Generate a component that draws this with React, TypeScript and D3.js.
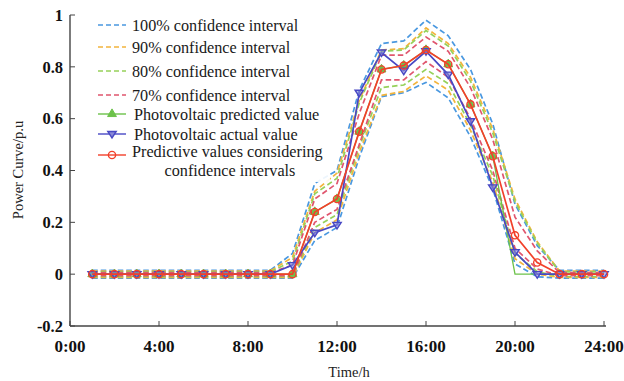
import React from "react";
import * as d3 from "d3";

// Hourly samples 1:00 .. 24:00
const hours: number[] = d3.range(1, 25);

// Power values (p.u.)
const actualValues: number[] = [0, 0, 0, 0, 0, 0, 0, 0, 0, 0.035, 0.16, 0.19, 0.7, 0.855, 0.785, 0.86, 0.77, 0.59, 0.335, 0.085, 0, 0, 0, 0];
const predictedValues: number[] = [0, 0, 0, 0, 0, 0, 0, 0, 0, 0, 0.24, 0.29, 0.55, 0.79, 0.805, 0.865, 0.81, 0.655, 0.455, 0, 0, 0, 0, 0];
const ciValues: number[] = [0, 0, 0, 0, 0, 0, 0, 0, 0, 0, 0.24, 0.29, 0.55, 0.79, 0.805, 0.865, 0.81, 0.655, 0.455, 0.15, 0.045, 0, 0, 0];

// Confidence interval bounds
const upper100: number[] = [0.015, 0.015, 0.015, 0.015, 0.015, 0.015, 0.015, 0.015, 0.015, 0.08, 0.35, 0.4, 0.71, 0.89, 0.9, 0.98, 0.92, 0.79, 0.58, 0.27, 0.11, 0.015, 0.015, 0.015];
const lower100: number[] = [-0.015, -0.015, -0.015, -0.015, -0.015, -0.015, -0.015, -0.015, -0.015, -0.015, 0.13, 0.18, 0.45, 0.685, 0.7, 0.74, 0.68, 0.53, 0.33, 0.04, -0.01, -0.015, -0.015, -0.015];
const upper90: number[] = [0.012, 0.012, 0.012, 0.012, 0.012, 0.012, 0.012, 0.012, 0.012, 0.065, 0.32, 0.39, 0.67, 0.865, 0.87, 0.95, 0.89, 0.76, 0.56, 0.29, 0.125, 0.012, 0.012, 0.012];
const lower90: number[] = [-0.012, -0.012, -0.012, -0.012, -0.012, -0.012, -0.012, -0.012, -0.012, -0.012, 0.16, 0.21, 0.47, 0.69, 0.705, 0.765, 0.71, 0.555, 0.355, 0.06, 0, -0.012, -0.012, -0.012];
const upper80: number[] = [0.009, 0.009, 0.009, 0.009, 0.009, 0.009, 0.009, 0.009, 0.009, 0.05, 0.31, 0.37, 0.66, 0.86, 0.865, 0.94, 0.88, 0.745, 0.545, 0.28, 0.12, 0.009, 0.009, 0.009];
const lower80: number[] = [-0.009, -0.009, -0.009, -0.009, -0.009, -0.009, -0.009, -0.009, -0.009, -0.009, 0.18, 0.23, 0.49, 0.72, 0.73, 0.79, 0.735, 0.575, 0.38, 0.08, 0.01, -0.009, -0.009, -0.009];
const upper70: number[] = [0.006, 0.006, 0.006, 0.006, 0.006, 0.006, 0.006, 0.006, 0.006, 0.035, 0.29, 0.35, 0.62, 0.845, 0.845, 0.915, 0.86, 0.72, 0.52, 0.22, 0.09, 0.006, 0.006, 0.006];
const lower70: number[] = [-0.006, -0.006, -0.006, -0.006, -0.006, -0.006, -0.006, -0.006, -0.006, -0.006, 0.2, 0.25, 0.5, 0.75, 0.75, 0.82, 0.76, 0.6, 0.4, 0.1, 0.02, -0.006, -0.006, -0.006];

// Axis ticks
const xTicks: number[] = [0, 4, 8, 12, 16, 20, 24];
const xTickLabels: string[] = ["0:00", "4:00", "8:00", "12:00", "16:00", "20:00", "24:00"];
const yTicks: number[] = [-0.2, 0, 0.2, 0.4, 0.6, 0.8, 1];
const yTickLabels: string[] = ["-0.2", "0", "0.2", "0.4", "0.6", "0.8", "1"];

const bandNames: string[] = ["100% confidence interval", "90% confidence interval", "80% confidence interval", "70% confidence interval"];
const bandColors: string[] = ["#4a98e0", "#f2b43c", "#96d15a", "#e0566e"];

const W = 624;
const H = 381;
const FONT = "'Liberation Serif', 'Times New Roman', serif";

export default function App() {
  const x = d3.scaleLinear().domain([0, 24]).range([70, 604]);
  const y = d3.scaleLinear().domain([-0.2, 1]).range([326, 15]);

  const line = d3
    .line<number>()
    .x((_, i) => x(hours[i]))
    .y((d) => y(d));

  const bands = [
    [upper100, lower100],
    [upper90, lower90],
    [upper80, lower80],
    [upper70, lower70],
  ];

  const green = "#6cc24a";
  const blue = "#4848c4";
  const red = "#f2402a";

  const triUp = d3.symbol(d3.symbolTriangle, 34)()!;
  const triDown = (cx: number, cy: number, r: number) =>
    `M${cx - r},${cy - r * 0.6}L${cx + r},${cy - r * 0.6}L${cx},${cy + r * 0.95}Z`;

  const legendX0 = 98;
  const legendX1 = 126;
  const legendTextX = 132;
  const legendRows = [25, 47, 71, 95];
  const legendFont = 16.2;

  return (
    <svg
      width={W}
      height={H}
      style={{ position: "absolute", left: 0, top: 0, background: "#fff" }}
      fontFamily={FONT}
    >
      <rect x={0} y={0} width={W} height={H} fill="#fff" />

      {/* confidence interval bounds */}
      {bands.map((pair, bi) =>
        pair.map((vals, k) => (
          <path
            key={`b${bi}-${k}`}
            d={line(vals)!}
            fill="none"
            stroke={bandColors[bi]}
            strokeWidth={1.7}
            strokeDasharray="5.5,3"
          />
        ))
      )}

      {/* predicted value */}
      <path d={line(predictedValues)!} fill="none" stroke={green} strokeWidth={1.3} />
      {predictedValues.map((v, i) =>
        i < 19 ? (
          <path
            key={`g${i}`}
            d={triUp}
            transform={`translate(${x(hours[i])},${y(v)})`}
            fill={green}
            stroke={green}
          />
        ) : null
      )}

      {/* actual value */}
      <path d={line(actualValues)!} fill="none" stroke={blue} strokeWidth={1.7} />
      {actualValues.map((v, i) => (
        <path
          key={`a${i}`}
          d={triDown(x(hours[i]), y(v), 4.2)}
          fill="#8a8ad8"
          fillOpacity={0.6}
          stroke={blue}
          strokeWidth={1.4}
        />
      ))}

      {/* values considering confidence intervals */}
      <path d={line(ciValues)!} fill="none" stroke={red} strokeWidth={1.7} />
      {ciValues.map((v, i) => (
        <circle
          key={`r${i}`}
          cx={x(hours[i])}
          cy={y(v)}
          r={3.6}
          fill="none"
          stroke={red}
          strokeWidth={1.4}
        />
      ))}

      {/* legend */}
      <rect x={94} y={14} width={236} height={168} fill="#fff" fillOpacity={0.9} />
      {bandNames.map((name, i) => (
        <g key={name}>
          <line
            x1={legendX0}
            x2={legendX1}
            y1={legendRows[i]}
            y2={legendRows[i]}
            stroke={bandColors[i]}
            strokeWidth={1.6}
            strokeDasharray="5,3"
          />
          <text x={legendTextX} y={legendRows[i]} dy="0.35em" fontSize={legendFont} fill="#1a1a1a">
            {name}
          </text>
        </g>
      ))}
      <line x1={legendX0} x2={legendX1} y1={114} y2={114} stroke={green} strokeWidth={1.4} />
      <path d={triUp} transform={`translate(${(legendX0 + legendX1) / 2},114)`} fill={green} stroke={green} />
      <text x={legendTextX + 2} y={114} dy="0.35em" fontSize={legendFont} fill="#1a1a1a">
        Photovoltaic predicted value
      </text>
      <line x1={legendX0} x2={legendX1} y1={134} y2={134} stroke={blue} strokeWidth={1.4} />
      <path d={triDown((legendX0 + legendX1) / 2, 134, 4.2)} fill="#8a8ad8" stroke={blue} strokeWidth={1.4} />
      <text x={legendTextX + 2} y={134} dy="0.35em" fontSize={legendFont} fill="#1a1a1a">
        Photovoltaic actual value
      </text>
      <line x1={legendX0} x2={legendX1} y1={155} y2={155} stroke={red} strokeWidth={1.4} />
      <circle cx={(legendX0 + legendX1) / 2} cy={155} r={3.6} fill="none" stroke={red} strokeWidth={1.4} />
      <text x={legendTextX} y={151} dy="0.35em" fontSize={legendFont} fill="#1a1a1a">
        Predictive values considering
      </text>
      <text x={230} y={170} dy="0.35em" fontSize={legendFont} fill="#1a1a1a" textAnchor="middle">
        confidence intervals
      </text>

      {/* axes */}
      <line x1={70} x2={70} y1={15} y2={326} stroke="#444" strokeWidth={1.4} />
      <line x1={70} x2={606} y1={326} y2={326} stroke="#444" strokeWidth={1.4} />
      {yTicks.map((t, i) => (
        <g key={`yt${i}`}>
          <line x1={70} x2={75} y1={y(t)} y2={y(t)} stroke="#444" strokeWidth={1} />
          <text
            x={63}
            y={y(t)}
            dy="0.35em"
            textAnchor="end"
            fontSize={16.5}
            fontWeight="bold"
            fill="#111"
          >
            {yTickLabels[i]}
          </text>
        </g>
      ))}
      {xTicks.map((t, i) => (
        <g key={`xt${i}`}>
          <line x1={x(t)} x2={x(t)} y1={326} y2={321} stroke="#444" strokeWidth={1} />
          <text
            x={x(t)}
            y={346}
            dy="0.35em"
            textAnchor="middle"
            fontSize={17}
            fontWeight="bold"
            fill="#111"
          >
            {xTickLabels[i]}
          </text>
        </g>
      ))}
      <text x={349} y={372} dy="0.35em" textAnchor="middle" fontSize={14.5} fill="#222">
        Time/h
      </text>
      <text
        transform={`translate(18,170) rotate(-90)`}
        dy="0.35em"
        textAnchor="middle"
        fontSize={14.5}
        fill="#222"
      >
        Power Curve/p.u
      </text>
    </svg>
  );
}
